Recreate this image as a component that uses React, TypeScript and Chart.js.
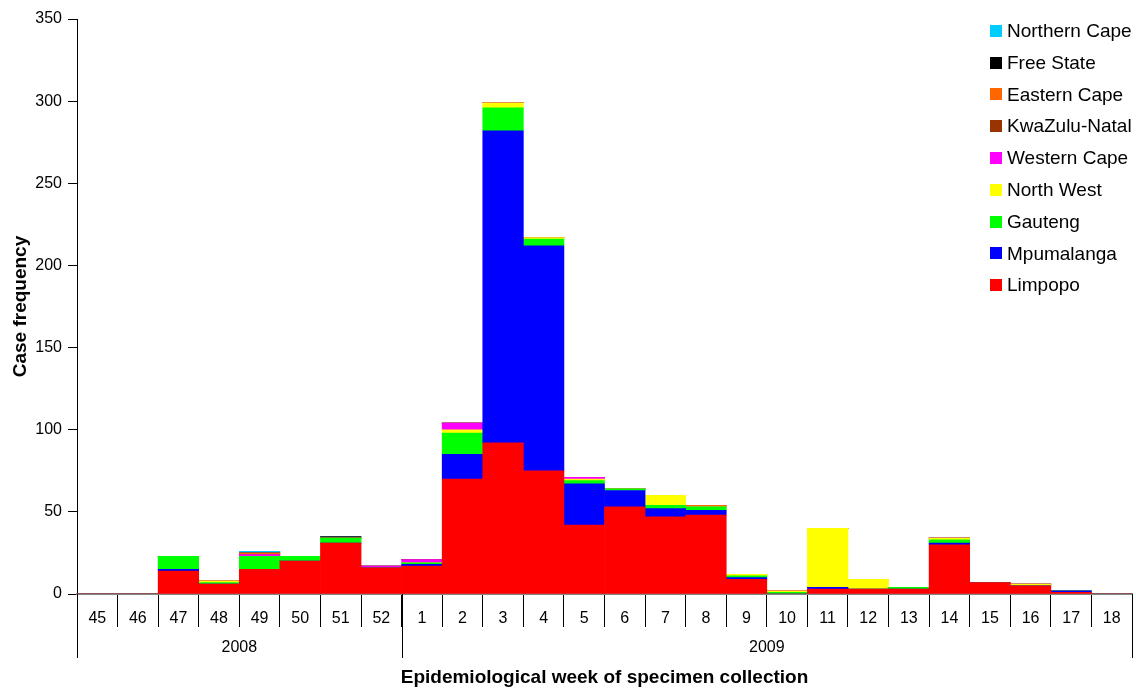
import React, { useEffect, useRef } from 'react';
import { Chart, registerables } from 'chart.js';

Chart.register(...registerables);

// ---------- data ----------
const weeks = ['45', '46', '47', '48', '49', '50', '51', '52', '1', '2', '3', '4', '5', '6', '7', '8', '9', '10', '11', '12', '13', '14', '15', '16', '17', '18'];
const years = ['2008', '2009'];
const yearFirstWeekIndex = [0, 8];

const limpopo = [0, 0, 14, 6, 15, 20, 31, 16, 17, 70, 92, 75, 42, 53, 47, 48, 9, 0, 3, 3, 3, 30, 7, 5, 1, 0];
const mpumalanga = [0, 0, 1, 0, 0, 0, 0, 0, 1, 15, 190, 137, 25, 10, 5, 3, 1, 0, 1, 0, 0, 1, 0, 0, 1, 0];
const gauteng = [0, 0, 8, 1, 8, 3, 3, 0, 1, 13, 14, 4, 2, 1, 2, 2, 1, 1, 0, 0, 1, 2, 0, 0, 0, 0];
const northWest = [0, 0, 0, 1, 0, 0, 0, 0, 0, 2, 3, 1, 1, 0, 6, 0, 1, 1, 36, 6, 0, 1, 0, 1, 0, 0];
const westernCape = [0, 0, 0, 0, 1, 0, 0, 1, 2, 4, 0, 0, 1, 0, 0, 0, 0, 0, 0, 0, 0, 0, 0, 0, 0, 0];
const kwaZuluNatal = [0, 0, 0, 0, 0, 0, 0, 0, 0, 0, 0, 0, 0, 0, 0, 0, 0, 0, 0, 0, 0, 0, 0, 0, 0, 0];
const easternCape = [0, 0, 0, 0, 1, 0, 0, 0, 0, 0, 0, 0, 0, 0, 0, 1, 0, 0, 0, 0, 0, 0, 0, 0, 0, 0];
const freeState = [0, 0, 0, 0, 0, 0, 1, 0, 0, 0, 0, 0, 0, 0, 0, 0, 0, 0, 0, 0, 0, 0, 0, 0, 0, 0];
const northernCape = [0, 0, 0, 0, 1, 0, 0, 0, 0, 0, 0, 0, 0, 0, 0, 0, 0, 0, 0, 0, 0, 0, 0, 0, 0, 0];

const seriesNames = ['Limpopo', 'Mpumalanga', 'Gauteng', 'North West', 'Western Cape', 'KwaZulu-Natal', 'Eastern Cape', 'Free State', 'Northern Cape'];
const seriesValues = [limpopo, mpumalanga, gauteng, northWest, westernCape, kwaZuluNatal, easternCape, freeState, northernCape];
const seriesColors = ['#FF0000', '#0000FF', '#00FF00', '#FFFF00', '#FF00FF', '#993300', '#FF6600', '#000000', '#00CCFF'];

const yMin = 0;
const yMax = 350;
const yStep = 50;

const xTitle = 'Epidemiological week of specimen collection';
const yTitle = 'Case frequency';

const FONT = '"Liberation Sans", Arial, Helvetica, sans-serif';

// ---------- plugins ----------
const yearRowPlugin = {
  id: 'yearRow',
  afterDraw(chart: any) {
    const xs = chart.scales.x;
    const { ctx, chartArea } = chart;
    const half = (xs.getPixelForValue(1) - xs.getPixelForValue(0)) / 2;
    const y0 = chartArea.bottom;
    const y1 = y0 + 64;
    ctx.save();
    ctx.strokeStyle = '#000';
    ctx.lineWidth = 1;
    const bounds: number[] = yearFirstWeekIndex.map((i) => xs.getPixelForValue(i) - half);
    bounds.push(xs.getPixelForValue(weeks.length - 1) + half);
    bounds.forEach((bx) => {
      const px = Math.round(bx) + 0.5;
      ctx.beginPath();
      ctx.moveTo(px, y0);
      ctx.lineTo(px, y1);
      ctx.stroke();
    });
    ctx.fillStyle = '#000';
    ctx.font = `16px ${FONT}`;
    ctx.textAlign = 'center';
    ctx.textBaseline = 'middle';
    years.forEach((yr, k) => {
      const cx = (bounds[k] + bounds[k + 1]) / 2;
      ctx.fillText(yr, cx, y0 + 54);
    });
    ctx.restore();
  },
};

const legendPlugin = {
  id: 'insideLegend',
  afterDraw(chart: any) {
    const { ctx } = chart;
    const ds = chart.data.datasets;
    const x = 990;
    const startY = 30.7;
    const step = 31.8;
    ctx.save();
    ctx.font = `19px ${FONT}`;
    ctx.textAlign = 'left';
    ctx.textBaseline = 'middle';
    for (let k = 0; k < ds.length; k++) {
      const d = ds[ds.length - 1 - k];
      const cy = startY + k * step;
      ctx.fillStyle = d.backgroundColor;
      ctx.fillRect(x, Math.round(cy - 6), 12, 12);
      ctx.fillStyle = '#000';
      ctx.fillText(d.label, x + 17, cy + 1);
    }
    ctx.restore();
  },
};

export default function App() {
  const canvasRef = useRef<HTMLCanvasElement | null>(null);

  useEffect(() => {
    document.body.style.margin = '0';
    const canvas = canvasRef.current;
    if (!canvas) return;
    Chart.defaults.font.family = FONT;
    const chart = new Chart(canvas, {
      type: 'bar',
      data: {
        labels: weeks,
        datasets: seriesNames.map((name, i) => ({
          label: name,
          data: seriesValues[i],
          backgroundColor: seriesColors[i],
          borderWidth: 0,
          barPercentage: 1,
          categoryPercentage: 1,
        })),
      },
      options: {
        animation: false,
        responsive: false,
        maintainAspectRatio: false,
        layout: { padding: { top: 19, right: 4, left: 0, bottom: 0 } },
        plugins: {
          legend: { display: false },
          tooltip: { enabled: false },
        },
        scales: {
          x: {
            stacked: true,
            offset: true,
            afterFit: (s: any) => {
              s.height = 95;
            },
            grid: {
              offset: true,
              drawOnChartArea: false,
              drawTicks: true,
              tickLength: 33,
              color: '#000',
              lineWidth: 1,
            },
            border: { display: true, color: '#868686', width: 2 },
            ticks: {
              color: '#000',
              font: { size: 16, family: FONT },
              padding: -18,
              maxRotation: 0,
              autoSkip: false,
            },
            title: {
              display: true,
              text: xTitle,
              color: '#000',
              font: { size: 19, weight: 'bold', family: FONT, lineHeight: 1.2 },
              padding: { top: 0, bottom: 0 },
            },
          },
          y: {
            stacked: true,
            min: yMin,
            max: yMax,
            afterFit: (s: any) => {
              s.width = 77;
            },
            grid: {
              drawOnChartArea: false,
              drawTicks: true,
              tickLength: 9,
              color: '#000',
            },
            border: { display: true, color: '#000', width: 1 },
            ticks: {
              stepSize: yStep,
              color: '#000',
              font: { size: 16, family: FONT },
              padding: 6,
            },
            title: {
              display: true,
              text: yTitle,
              color: '#000',
              font: { size: 19, weight: 'bold', family: FONT, lineHeight: 1.2 },
              padding: { top: 9, bottom: 0 },
            },
          },
        },
      },
      plugins: [yearRowPlugin, legendPlugin],
    } as any);
    return () => chart.destroy();
  }, []);

  return (
    <div style={{ width: 1136, height: 689, position: 'relative', background: '#fff' }}>
      <canvas ref={canvasRef} width={1136} height={689} style={{ display: 'block' }} />
    </div>
  );
}
